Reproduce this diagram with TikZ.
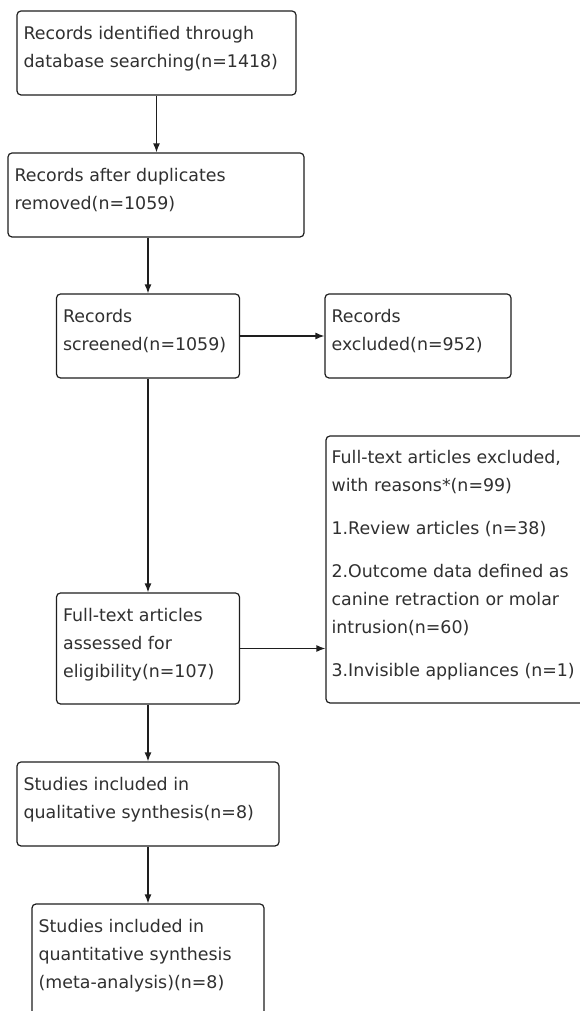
\documentclass[tikz,border=0pt]{standalone}
\usepackage{fontspec}
\setmainfont{DejaVu Sans}
\usetikzlibrary{arrows.meta,calc}
\definecolor{linegray}{HTML}{1E1E1E}
\definecolor{textgray}{HTML}{303030}
\tikzset{
  box/.style={draw=linegray, line width=1.2pt, rounded corners=4pt, fill=white, inner sep=0pt},
  txt/.style={inner sep=0pt, anchor=north west, align=left, text=textgray,
    font=\fontsize{17.4}{28}\selectfont},
  conn/.style={draw=linegray, line width=1.3pt, -{Latex[length=9pt,width=7pt]}}
}
\newcommand{\topstrut}{\rule{0pt}{14pt}}
\begin{document}
\begin{tikzpicture}[x=1pt,y=1pt]
\useasboundingbox (0,0) rectangle (580,1011);
\fill[white] (0,0) rectangle (580,1011);
\clip (0,0) rectangle (580,1011);

\node[box, minimum width=279, minimum height=84] (b1) at (156.5,958) {};
\node[box, minimum width=296, minimum height=84] (b2) at (156,816) {};
\node[box, minimum width=183, minimum height=84] (b3) at (148,675) {};
\node[box, minimum width=186, minimum height=84] (b4) at (418,675) {};
\node[box, minimum width=274, minimum height=267] (b5) at (463,441.5) {};
\node[box, minimum width=183, minimum height=111] (b6) at (148,362.5) {};
\node[box, minimum width=262, minimum height=84] (b7) at (148,207) {};
\node[box, minimum width=232, minimum height=136] (b8) at (148,39) {};

\node[txt] (t1) at ($(b1.north west)+(7,-15)$) {\topstrut Records identified through\\database searching(n=1418)};
\node[txt] (t2) at ($(b2.north west)+(7,-15)$) {\topstrut Records after duplicates\\removed(n=1059)};
\node[txt] (t3) at ($(b3.north west)+(7,-15)$) {\topstrut Records\\screened(n=1059)};
\node[txt] (t4) at ($(b4.north west)+(7,-15)$) {\topstrut Records\\excluded(n=952)};
\node[txt] (t5) at ($(b5.north west)+(6,-14)$) {\topstrut Full-text articles excluded,\\with reasons*(n=99)\\[15pt]1.Review articles (n=38)\\[15pt]2.Outcome data defined as\\canine retraction or molar\\intrusion(n=60)\\[15pt]3.Invisible appliances (n=1)};
\node[txt] (t6) at ($(b6.north west)+(7,-15)$) {\topstrut Full-text articles\\assessed for\\eligibility(n=107)};
\node[txt] (t7) at ($(b7.north west)+(7,-15)$) {\topstrut Studies included in\\qualitative synthesis(n=8)};
\node[txt] (t8) at ($(b8.north west)+(7,-15)$) {\topstrut Studies included in\\quantitative synthesis\\(meta-analysis)(n=8)};

\draw[conn] (b1.south) -- (b1.south |- b2.north);
\draw[conn] (b3.north |- b2.south) -- (b3.north);
\draw[conn] (b3.east) -- (b4.west);
\draw[conn] (b3.south) -- (b6.north);
\draw[conn] (b6.east) -- (b6.east -| b5.west);
\draw[conn] (b6.south) -- (b7.north);
\draw[conn] (b7.south) -- (b8.north);
\end{tikzpicture}
\end{document}
